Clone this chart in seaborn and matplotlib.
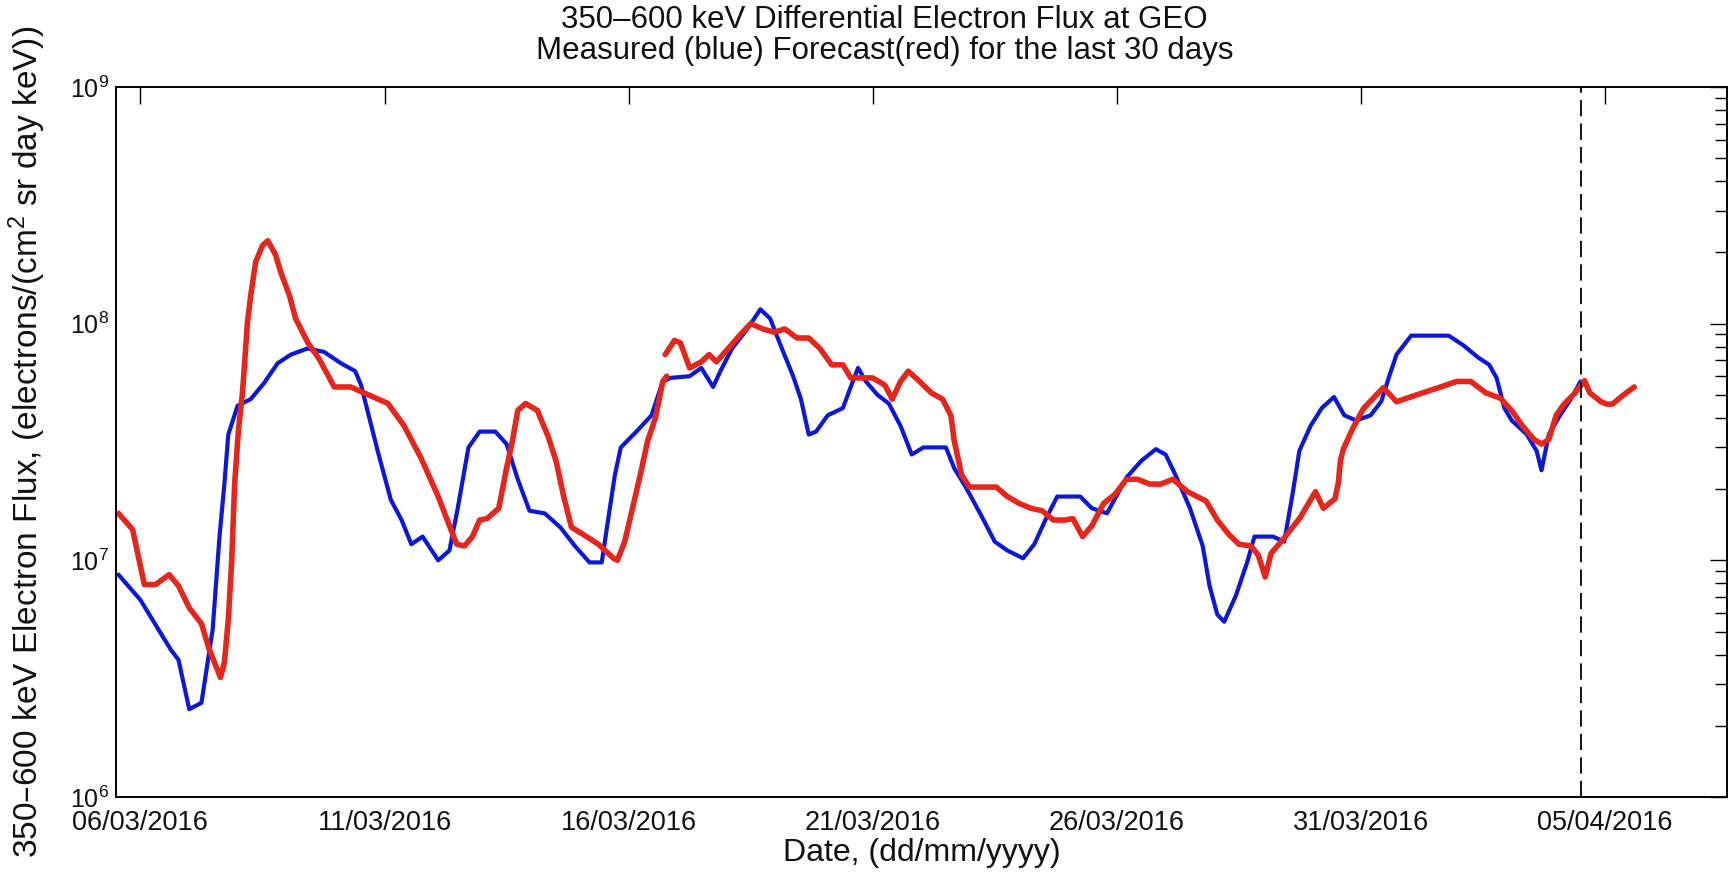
import numpy as np
import pandas as pd
import matplotlib
matplotlib.use("Agg")
import matplotlib.pyplot as plt
import matplotlib.dates as mdates
from matplotlib.ticker import LogLocator, NullFormatter, FixedLocator
import seaborn as sns

# ---------------- data (day offsets from 06/03/2016 00:00, flux values) ----------------
START = "2016-03-06"

measured_day = [-0.45, 0.0, 0.62, 0.78, 1.0, 1.25, 1.48, 1.62, 1.72, 1.80, 1.99, 2.26, 2.53, 2.81,
                3.08, 3.42, 3.76, 4.11, 4.40, 4.52, 4.65, 4.86, 5.13, 5.35, 5.55, 5.78, 6.10, 6.33,
                6.50, 6.72, 6.95, 7.27, 7.50, 7.73, 7.97, 8.28, 8.60, 8.90, 9.20, 9.45, 9.60, 9.72,
                9.84, 10.16, 10.47, 10.70, 10.86, 11.25, 11.49, 11.73, 11.88, 12.12, 12.43, 12.70,
                12.90, 13.14, 13.37, 13.53, 13.69, 13.84, 14.08, 14.39, 14.55, 14.70, 14.86, 15.10,
                15.33, 15.57, 15.80, 16.04, 16.50, 16.67, 16.90, 17.20, 17.50, 17.76, 18.08, 18.31,
                18.55, 18.78, 19.25, 19.49, 19.80, 20.20, 20.50, 20.80, 21.00, 21.20, 21.50, 21.76,
                21.90, 22.06, 22.20, 22.44, 22.67, 22.82, 23.20, 23.43, 23.60, 23.74, 23.97, 24.20,
                24.45, 24.66, 24.90, 25.20, 25.42, 25.57, 25.73, 26.03, 26.80, 27.10, 27.40, 27.63,
                27.78, 27.94, 28.09, 28.40, 28.60, 28.70, 28.85, 29.08, 29.30, 29.50]
measured_flux = [8.7e6, 6.8e6, 4.2e6, 3.8e6, 2.35e6, 2.5e6, 5.1e6, 1.26e7, 2.1e7, 3.4e7, 4.5e7, 4.8e7,
                 5.6e7, 6.8e7, 7.4e7, 7.85e7, 7.6e7, 6.8e7, 6.3e7, 5.5e7, 4.3e7, 2.9e7, 1.8e7, 1.48e7,
                 1.17e7, 1.26e7, 1.0e7, 1.1e7, 1.66e7, 3.0e7, 3.5e7, 3.5e7, 3.1e7, 2.2e7, 1.62e7,
                 1.58e7, 1.38e7, 1.15e7, 9.8e6, 9.8e6, 1.58e7, 2.3e7, 3.0e7, 3.5e7, 4.1e7, 5.7e7,
                 5.9e7, 6.0e7, 6.5e7, 5.4e7, 6.3e7, 7.85e7, 9.5e7, 1.15e8, 1.05e8, 7.85e7, 6.0e7,
                 4.8e7, 3.4e7, 3.5e7, 4.1e7, 4.4e7, 5.4e7, 6.5e7, 5.7e7, 5.0e7, 4.6e7, 3.7e7, 2.8e7,
                 3.0e7, 3.0e7, 2.45e7, 2.05e7, 1.58e7, 1.2e7, 1.1e7, 1.02e7, 1.17e7, 1.5e7, 1.86e7,
                 1.86e7, 1.66e7, 1.58e7, 2.24e7, 2.63e7, 2.95e7, 2.8e7, 2.3e7, 1.66e7, 1.15e7, 7.8e6,
                 5.9e6, 5.5e6, 7.1e6, 9.8e6, 1.26e7, 1.26e7, 1.2e7, 1.9e7, 2.9e7, 3.7e7, 4.4e7,
                 4.9e7, 4.1e7, 3.9e7, 4.1e7, 4.7e7, 5.9e7, 7.4e7, 8.9e7, 8.9e7, 8.1e7, 7.2e7, 6.7e7,
                 5.9e7, 4.4e7, 3.9e7, 3.4e7, 2.9e7, 2.4e7, 3.4e7, 4.1e7, 4.8e7, 5.7e7]

forecast_a_day = [-0.45, -0.16, 0.08, 0.31, 0.59, 0.78, 1.00, 1.25, 1.41, 1.64, 1.72, 1.80, 1.87, 1.93,
                  2.01, 2.09, 2.14, 2.19, 2.26, 2.36, 2.50, 2.61, 2.77, 2.87, 3.05, 3.18, 3.43, 3.66,
                  3.97, 4.31, 4.58, 5.07, 5.40, 5.75, 6.10, 6.33, 6.48, 6.64, 6.80, 6.95, 7.10, 7.34,
                  7.50, 7.62, 7.73, 7.89, 8.13, 8.36, 8.52, 8.67, 8.83, 9.06, 9.38, 9.69, 9.77, 9.92,
                  10.08, 10.24, 10.39, 10.55, 10.70, 10.78]
forecast_a_flux = [1.58e7, 1.35e7, 7.9e6, 7.9e6, 8.7e6, 7.8e6, 6.3e6, 5.4e6, 4.2e6, 3.2e6, 3.7e6, 5.6e6,
                   1.0e7, 2.1e7, 3.6e7, 5.1e7, 7.1e7, 1.0e8, 1.32e8, 1.82e8, 2.14e8, 2.24e8, 1.95e8,
                   1.66e8, 1.32e8, 1.05e8, 8.3e7, 7.1e7, 5.4e7, 5.4e7, 5.1e7, 4.6e7, 3.7e7, 2.7e7,
                   1.86e7, 1.4e7, 1.17e7, 1.15e7, 1.26e7, 1.48e7, 1.5e7, 1.66e7, 2.45e7, 3.2e7, 4.3e7,
                   4.6e7, 4.3e7, 3.3e7, 2.6e7, 1.86e7, 1.38e7, 1.29e7, 1.17e7, 1.02e7, 1.0e7, 1.2e7,
                   1.66e7, 2.3e7, 3.2e7, 4.0e7, 5.7e7, 6.0e7]

forecast_b_day = [10.75, 10.94, 11.06, 11.25, 11.49, 11.65, 11.80, 12.04, 12.27, 12.50, 12.75, 12.98,
                  13.20, 13.45, 13.69, 13.92, 14.16, 14.39, 14.55, 14.78, 15.00, 15.25, 15.40, 15.57,
                  15.73, 15.96, 16.20, 16.43, 16.60, 16.67, 16.82, 16.98, 17.20, 17.53, 17.76, 18.00,
                  18.24, 18.47, 18.70, 18.94, 19.10, 19.30, 19.49, 19.73, 19.96, 20.20, 20.43, 20.67,
                  20.90, 21.15, 21.45, 21.83, 22.06, 22.29, 22.50, 22.75, 22.90, 23.04, 23.16, 23.41,
                  23.75, 24.07, 24.23, 24.47, 24.54, 24.58, 24.64, 24.84, 25.05, 25.46, 25.73, 26.14,
                  26.63, 26.96, 27.25, 27.56, 27.86, 28.10, 28.30, 28.55, 28.70, 28.85, 29.00, 29.16,
                  29.39, 29.58, 29.69, 29.92, 30.04, 30.15, 30.38, 30.60]
forecast_b_flux = [7.4e7, 8.5e7, 8.3e7, 6.5e7, 6.9e7, 7.4e7, 6.9e7, 7.85e7, 8.9e7, 1.0e8, 9.5e7, 9.2e7,
                   9.5e7, 8.7e7, 8.7e7, 7.85e7, 6.7e7, 6.7e7, 5.9e7, 5.9e7, 5.9e7, 5.5e7, 4.8e7, 5.7e7,
                   6.3e7, 5.7e7, 5.1e7, 4.8e7, 4.1e7, 3.2e7, 2.3e7, 2.04e7, 2.04e7, 2.04e7, 1.86e7,
                   1.74e7, 1.66e7, 1.62e7, 1.48e7, 1.48e7, 1.5e7, 1.26e7, 1.4e7, 1.74e7, 1.9e7, 2.2e7,
                   2.2e7, 2.1e7, 2.1e7, 2.2e7, 1.95e7, 1.78e7, 1.48e7, 1.29e7, 1.17e7, 1.15e7, 1.05e7,
                   8.5e6, 1.07e7, 1.23e7, 1.51e7, 1.95e7, 1.66e7, 1.82e7, 2.14e7, 2.63e7, 2.95e7,
                   3.63e7, 4.37e7, 5.37e7, 4.68e7, 5.0e7, 5.4e7, 5.7e7, 5.7e7, 5.1e7, 4.84e7, 4.27e7,
                   3.72e7, 3.24e7, 3.1e7, 3.24e7, 4.1e7, 4.57e7, 5.1e7, 5.75e7, 5.1e7, 4.68e7, 4.57e7,
                   4.57e7, 5.0e7, 5.4e7]

tick_dates = ["2016-03-06", "2016-03-11", "2016-03-16", "2016-03-21",
              "2016-03-26", "2016-03-31", "2016-04-05"]
now_date = "2016-04-04 12:00"
x_start, x_end = "2016-03-05 12:00", "2016-04-07 12:00"

title_text = "350\u2013600 keV Differential Electron Flux at GEO\nMeasured (blue) Forecast(red) for the last 30 days"
xlabel_text = "Date, (dd/mm/yyyy)"
ylabel_text = "350\u2013600 keV Electron Flux, (electrons/(cm$^{2}$ sr day keV))"

# ---------------- build frames ----------------
t0 = pd.Timestamp(START)
def frame(days, flux):
    return pd.DataFrame({"date": t0 + pd.to_timedelta(np.array(days), unit="D"),
                         "flux": np.array(flux)})

meas = frame(measured_day, measured_flux)
fa = frame(forecast_a_day, forecast_a_flux)
fb = frame(forecast_b_day, forecast_b_flux)

# ---------------- style ----------------
sns.set_style("white")
plt.rcParams["font.family"] = ["Liberation Sans", "DejaVu Sans"]
plt.rcParams["mathtext.default"] = "regular"

W, H = 1730, 877
L, R, T, B = 116, 1727, 87, 797
fig = plt.figure(figsize=(W / 100, H / 100), dpi=100)
ax = fig.add_axes([L / W, 1 - B / H, (R - L) / W, (B - T) / H])

BLUE = "#0d18d6"
RED = "#e5261c"

sns.lineplot(data=meas, x="date", y="flux", ax=ax, color=BLUE, lw=3.0,
             estimator=None, sort=False)
sns.lineplot(data=fa, x="date", y="flux", ax=ax, color=RED, lw=4.0,
             estimator=None, sort=False)
sns.lineplot(data=fb, x="date", y="flux", ax=ax, color=RED, lw=4.0,
             estimator=None, sort=False)

ax.axvline(pd.Timestamp(now_date), color="black", lw=1.3, ls=(0, (9, 4)))

ax.set_yscale("log")
ax.set_ylim(1e6, 1e9)
ax.set_xlim(pd.Timestamp(x_start), pd.Timestamp(x_end))

ax.yaxis.set_major_locator(LogLocator(base=10, numticks=10))
ax.yaxis.set_minor_locator(LogLocator(base=10, subs=np.arange(2, 10), numticks=100))
ax.yaxis.set_minor_formatter(NullFormatter())

ticks = [mdates.date2num(pd.Timestamp(d)) for d in tick_dates]
ax.xaxis.set_major_locator(FixedLocator(ticks))
ax.xaxis.set_major_formatter(mdates.DateFormatter("%d/%m/%Y"))

for s in ax.spines.values():
    s.set_visible(True)
    s.set_color("black")
    s.set_linewidth(1.4)

ax.tick_params(axis="both", which="both", direction="in", top=True, right=True,
               color="black", labelcolor="#111111")
ax.tick_params(axis="both", which="major", length=12, width=1.0)
ax.tick_params(axis="x", which="major", labelsize=19.5, pad=9)
ax.tick_params(axis="y", which="major", labelsize=18, pad=5)
ax.tick_params(axis="y", which="minor", length=8.5, width=1.0)

ax.set_title(title_text, fontsize=22.5, color="#111111", pad=20, linespacing=1.05,
             x=0.477)
ax.set_xlabel(xlabel_text, fontsize=23, color="#111111", labelpad=2)
ax.set_ylabel(ylabel_text, fontsize=24, color="#111111")
ax.yaxis.set_label_coords((48 - L) / (R - L), 0.5)

fig.savefig("out.png", dpi=100, facecolor="white")
